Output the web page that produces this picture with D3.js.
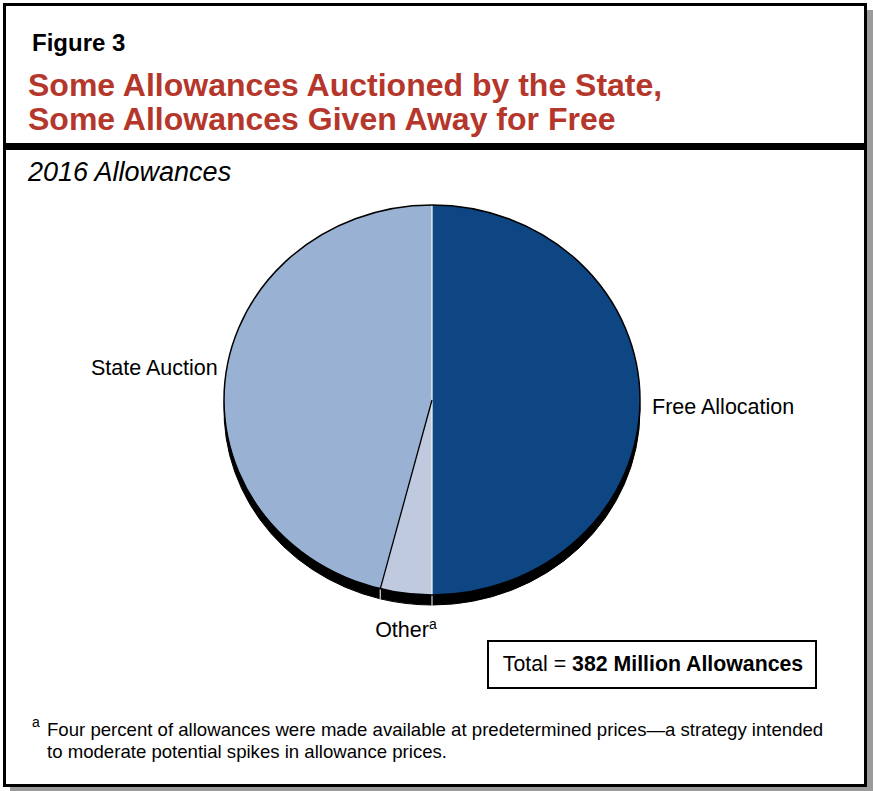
<!DOCTYPE html>
<html>
<head>
<meta charset="utf-8">
<script src="https://cdn.jsdelivr.net/npm/d3@7"></script>
<style>
  html, body { margin: 0; padding: 0; background: #fff; }
  svg { display: block; font-family: "Liberation Sans", Arial, Helvetica, sans-serif; }
</style>
</head>
<body>
<svg id="chart" width="873" height="791"></svg>
<script>
// ---- data ----
const categories = ["Free Allocation", "Other", "State Auction"];
const values = [50, 4, 46];           // share of 2016 allowances, percent
const colors = ["#0E4683", "#BFCADF", "#99B1D3"];
const totalLabel = "382 Million Allowances";
const figureLabel = "Figure 3";
const titleLines = ["Some Allowances Auctioned by the State,", "Some Allowances Given Away for Free"];
const subtitle = "2016 Allowances";
const footnoteLines = [
  "Four percent of allowances were made available at predetermined prices\u2014a strategy intended",
  "to moderate potential spikes in allowance prices."
];

(function () {
const svg = d3.select("#chart");

// frame with shadow
svg.append("rect").attr("x", 10).attr("y", 10).attr("width", 863).attr("height", 781).attr("fill", "#9b9b9b");
svg.append("rect").attr("x", 4.5).attr("y", 4.5).attr("width", 861).attr("height", 781)
  .attr("fill", "#fff").attr("stroke", "#000").attr("stroke-width", 3);
svg.append("rect").attr("x", 4).attr("y", 143).attr("width", 862).attr("height", 7).attr("fill", "#000");

// header
svg.append("text").attr("x", 32).attr("y", 51).attr("font-size", 24).attr("font-weight", "bold")
  .attr("fill", "#000").text(figureLabel);
svg.selectAll("text.title").data(titleLines).enter().append("text").attr("class", "title")
  .attr("x", 28).attr("y", (d, i) => 96 + i * 34)
  .attr("font-size", 32).attr("font-weight", "bold").attr("fill", "#B5372B").text(d => d);
svg.append("text").attr("x", 28).attr("y", 181).attr("font-size", 27).attr("font-style", "italic")
  .attr("fill", "#000").text(subtitle);

// pie
const cx = 432, cy = 400, rx = 208, ry = 195, depth = 10;
const sy = ry / rx;
const pie = d3.pie().sort(null).value(d => d.v);
const data = pie(categories.map((c, i) => ({ c, v: values[i], col: colors[i] })));
const arc = d3.arc().innerRadius(0).outerRadius(rx);

// side (extrusion)
const side = svg.append("g").attr("transform", `translate(${cx},${cy + depth}) scale(1,${sy})`);
side.selectAll("path").data(data).enter().append("path")
  .attr("d", arc).attr("fill", "#000").attr("stroke", "#000").attr("stroke-width", 1)
  .attr("vector-effect", "non-scaling-stroke");

// boundary lines on side
const bounds = data.map(d => d.startAngle).filter(a => Math.cos(a) < -0.01);
svg.selectAll("line.sideb").data(bounds).enter().append("line").attr("class", "sideb")
  .attr("x1", a => cx + rx * Math.sin(a)).attr("x2", a => cx + rx * Math.sin(a))
  .attr("y1", a => cy - ry * Math.cos(a)).attr("y2", a => cy - ry * Math.cos(a) + depth + 1)
  .attr("stroke", "#d8d8d8").attr("stroke-width", 1.2);

// top face
const face = svg.append("g").attr("transform", `translate(${cx},${cy}) scale(1,${sy})`);
face.selectAll("path.slice").data(data).enter().append("path").attr("class", "slice")
  .attr("d", arc).attr("fill", d => d.data.col).attr("stroke", "none");
// radial dividers
const line = d3.lineRadial();
face.selectAll("path.div").data(data).enter().append("path").attr("class", "div")
  .attr("d", d => line([[0, 0], [d.startAngle, rx]]))
  .attr("fill", "none")
  .attr("stroke", d => d.data.c === "State Auction" ? "#000" : "#f2f2f2")
  .attr("stroke-width", 1.3).attr("vector-effect", "non-scaling-stroke");
// outline
face.append("circle").attr("r", rx).attr("fill", "none").attr("stroke", "#000")
  .attr("stroke-width", 1.5).attr("vector-effect", "non-scaling-stroke");

// labels
const labelFont = 21.5;
data.forEach(d => {
  const mid = (d.startAngle + d.endAngle) / 2;
  const px = cx + rx * Math.sin(mid), py = cy - ry * Math.cos(mid);
  const t = svg.append("text").attr("font-size", labelFont).attr("fill", "#000");
  if (d.data.c === "Free Allocation") {
    t.attr("x", px + 12).attr("y", py + 14).attr("text-anchor", "start").text(d.data.c);
  } else if (d.data.c === "State Auction") {
    t.attr("x", px - 8).attr("y", py - 1).attr("text-anchor", "end").text(d.data.c);
  } else {
    t.attr("x", px + 0).attr("y", py + 44).attr("text-anchor", "middle");
    t.append("tspan").text(d.data.c);
    t.append("tspan").attr("font-size", 14).attr("dy", -8).text("a");
  }
});

// total box
svg.append("rect").attr("x", 488).attr("y", 641).attr("width", 328).attr("height", 47)
  .attr("fill", "#fff").attr("stroke", "#000").attr("stroke-width", 2);
const tt = svg.append("text").attr("x", 653).attr("y", 671).attr("text-anchor", "middle")
  .attr("font-size", 21.3).attr("fill", "#000");
tt.append("tspan").text("Total = ");
tt.append("tspan").attr("font-weight", "bold").text(totalLabel);

// footnote
svg.append("text").attr("x", 32).attr("y", 727).attr("font-size", 14).attr("fill", "#000").text("a");
svg.selectAll("text.fn").data(footnoteLines).enter().append("text").attr("class", "fn")
  .attr("x", 47).attr("y", (d, i) => 736 + i * 22)
  .attr("font-size", 18.6).attr("fill", "#000").text(d => d);
})();
</script>
</body>
</html>
